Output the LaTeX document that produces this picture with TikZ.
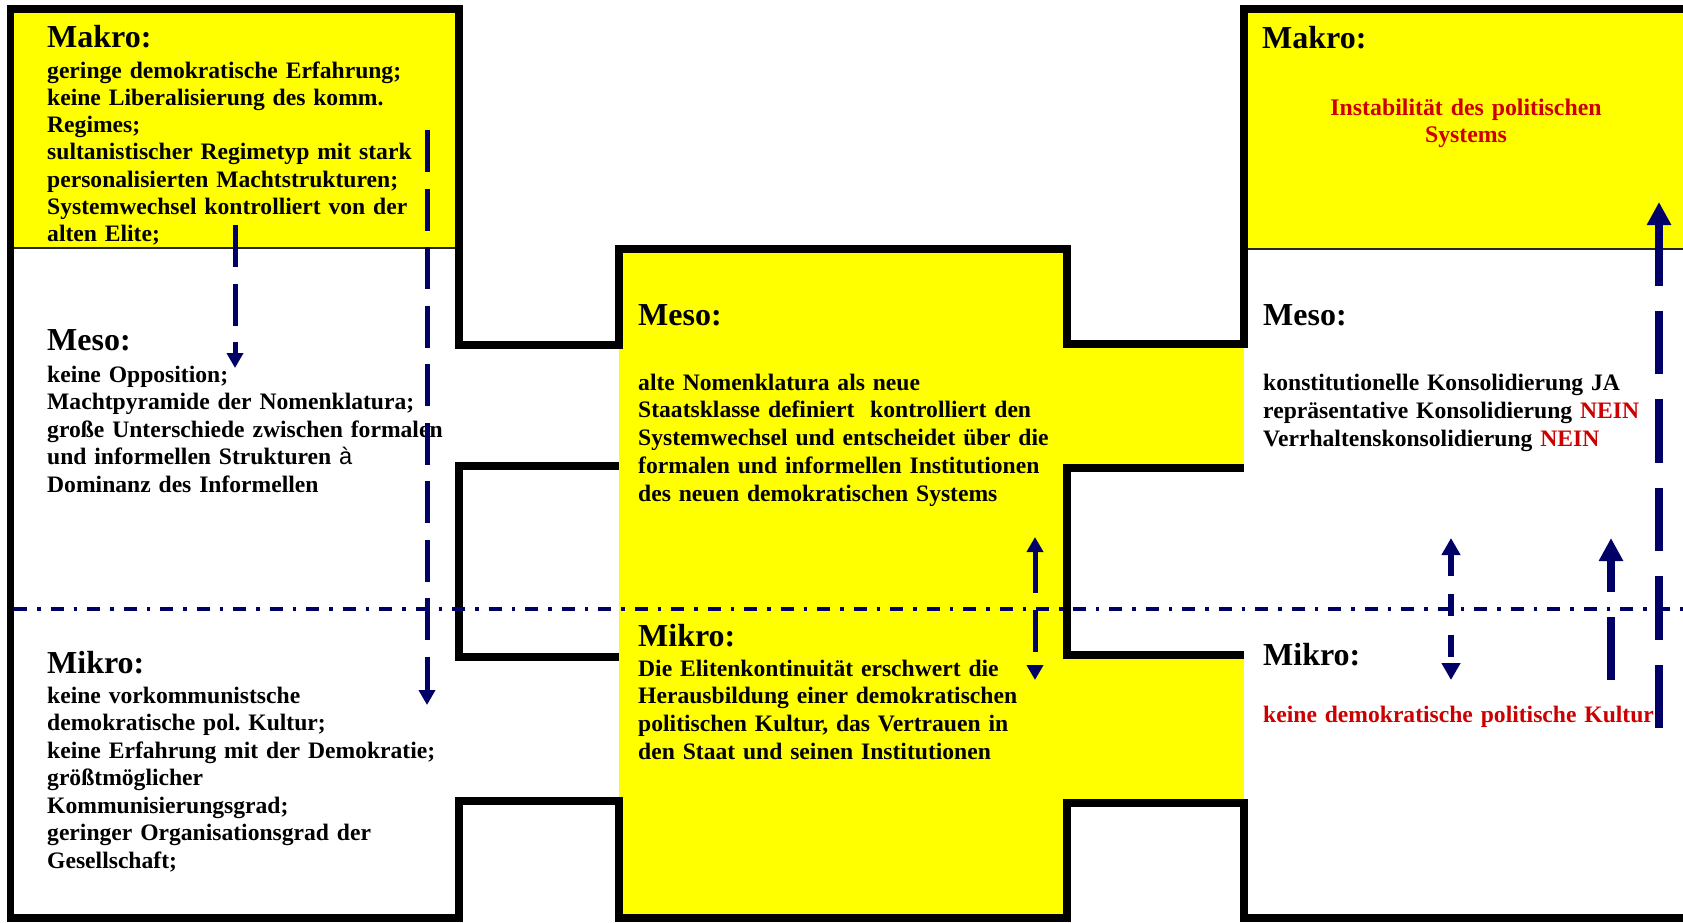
\documentclass[tikz,border=0pt]{standalone}
\usepackage{fontspec}
\setmainfont{Liberation Serif}
\newfontfamily\arrowfont{Liberation Sans}
\usetikzlibrary{arrows.meta}
\definecolor{navy}{RGB}{0,0,102}
\definecolor{signalred}{RGB}{204,0,0}
\definecolor{panelyellow}{RGB}{255,255,0}
\frenchspacing

\begin{document}
\begin{tikzpicture}[x=1pt,y=-1pt,
  frame/.style={draw=black, line width=7.5pt, line join=miter, line cap=butt},
  divider/.style={draw=black!85, line width=1.6pt},
  heading/.style={anchor=base west, inner sep=0pt, font=\fontsize{32}{36}\selectfont\bfseries},
  body/.style={anchor=base west, inner sep=0pt, text width=520pt, align=left,
    font=\fontsize{23.6}{27.5}\selectfont\bfseries},
  levelline/.style={draw=navy, line width=3.5pt, line cap=butt,
    dash pattern=on 13pt off 10pt on 3.5pt off 10pt},
  thinflow/.style={draw=navy, line width=5pt, line cap=butt, dash pattern=on 42pt off 16.5pt},
  midflow/.style={draw=navy, line width=6pt, line cap=butt, dash pattern=on 22pt off 18.5pt},
  boldflow/.style={draw=navy, line width=8pt, line cap=butt, dash pattern=on 63.5pt off 25pt},
  smallhead/.tip={Triangle[length=15pt,width=16pt]},
  midhead/.tip={Triangle[length=17pt,width=18pt]},
  bighead/.tip={Triangle[length=23pt,width=23pt]}
]
\useasboundingbox (0,0) rectangle (1683,922);
\clip (0,0) rectangle (1683,922);

% yellow areas
\fill[panelyellow] (10.5,9) rectangle (459,248);
\fill[panelyellow] (1244,9) rectangle (1700,249);
\fill[panelyellow] (619,249) rectangle (1067,918);
\fill[panelyellow] (1067,344) rectangle (1244,468);
\fill[panelyellow] (1067,655) rectangle (1244,803);

% thin lines between Makro and Meso
\draw[divider] (10.5,248) -- (459,248);
\draw[divider] (1244,249) -- (1700,249);

% heavy outline of the three columns and their bridges
\draw[frame] (1700,9) -- (1244,9) -- (1244,344) -- (1067,344) -- (1067,249)
  -- (619,249) -- (619,345) -- (459,345) -- (459,9) -- (10.5,9) -- (10.5,918)
  -- (459,918) -- (459,801) -- (619,801) -- (619,918) -- (1067,918) -- (1067,803)
  -- (1244,803) -- (1244,918) -- (1700,918);
\draw[frame] (619,466) -- (459,466) -- (459,657) -- (619,657);
\draw[frame] (1244,468) -- (1067,468) -- (1067,655) -- (1244,655);

% texts: left column
\node[heading] (lmakroH) at (47,47) {Makro:};
\node[body, font=\fontsize{23.6}{27.3}\selectfont\bfseries] (lmakroT) at (47,78) {geringe demokratische Erfahrung;\\
keine Liberalisierung des komm.\\
Regimes;\\
sultanistischer Regimetyp mit stark\\
personalisierten Machtstrukturen;\\
Systemwechsel kontrolliert von der\\
alten Elite;};
\node[heading] (lmesoH) at (47,350) {Meso:};
\node[body] (lmesoT) at (47,382) {keine Opposition;\\
Machtpyramide der Nomenklatura;\\
große Unterschiede zwischen formalen\\
und informellen Strukturen {\arrowfont\mdseries à}\\
Dominanz des Informellen};
\node[heading] (lmikroH) at (47,673) {Mikro:};
\node[body] (lmikroT) at (47,703) {keine vorkommunistsche\\
demokratische pol. Kultur;\\
keine Erfahrung mit der Demokratie;\\
größtmöglicher\\
Kommunisierungsgrad;\\
geringer Organisationsgrad der\\
Gesellschaft;};

% texts: centre column
\node[heading] (cmesoH) at (638,325) {Meso:};
\node[body, font=\fontsize{23.6}{27.8}\selectfont\bfseries] (cmesoT) at (638,390) {alte Nomenklatura als neue\\
Staatsklasse definiert~ kontrolliert den\\
Systemwechsel und entscheidet über die\\
formalen und informellen Institutionen\\
des neuen demokratischen Systems};
\node[heading] (cmikroH) at (638,646) {Mikro:};
\node[body, font=\fontsize{23.6}{27.8}\selectfont\bfseries] (cmikroT) at (638,676) {Die Elitenkontinuität erschwert die\\
Herausbildung einer demokratischen\\
politischen Kultur, das Vertrauen in\\
den Staat und seinen Institutionen};

% texts: right column
\node[heading] (rmakroH) at (1262,48) {Makro:};
\node[anchor=base, inner sep=0pt, text width=400pt, align=center, text=signalred,
  font=\fontsize{23.8}{27}\selectfont\bfseries] (rmakroT) at (1466,115) {Instabilität des politischen\\Systems};
\node[heading] (rmesoH) at (1263,325) {Meso:};
\node[body, font=\fontsize{23.6}{28}\selectfont\bfseries] (rmesoT) at (1263,390) {konstitutionelle Konsolidierung JA\\
repräsentative Konsolidierung \textcolor{signalred}{NEIN}\\
Verrhaltenskonsolidierung \textcolor{signalred}{NEIN}};
\node[heading] (rmikroH) at (1263,665) {Mikro:};
\node[body, text=signalred] (rmikroT) at (1263,722) {keine demokratische politische Kultur};

% boundary between Meso and Mikro
\coordinate (lvA) at (14,609);
\coordinate (lvB) at (1683,609);
\draw[levelline] (lvA) -- (lvB);

% influence arrows
\coordinate (lsA) at (235,225);  \coordinate (lsB) at (235,368);
\coordinate (llA) at (427,130);  \coordinate (llB) at (427,705);
\coordinate (cdA) at (1035,537); \coordinate (cdB) at (1035,680);
\coordinate (rdA) at (1451,538); \coordinate (rdB) at (1451,680);
\coordinate (rtA) at (1611,680); \coordinate (rtB) at (1611,538);
\coordinate (rlA) at (1659,728); \coordinate (rlB) at (1659,202);

\draw[thinflow, -{smallhead}] (lsA) -- (lsB);
\draw[thinflow, -{smallhead}] (llA) -- (llB);
\draw[thinflow, {smallhead}-{smallhead}] (cdA) -- (cdB);
\draw[midflow, {midhead}-{midhead}] (rdA) -- (rdB);
\draw[boldflow, -{bighead}] (rtA) -- (rtB);
\draw[boldflow, -{bighead}] (rlA) -- (rlB);
\end{tikzpicture}
\end{document}
